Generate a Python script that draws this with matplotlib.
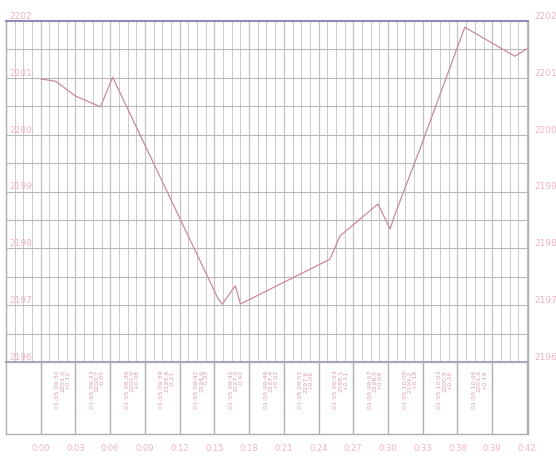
import numpy as np
import matplotlib.pyplot as plt

# data (x in tick units, y in price units)
xs = [0, 0.43, 1.0, 1.72, 2.07, 5.11, 5.23, 5.6, 5.75, 8.33, 8.62, 9.71, 10.06, 10.2, 10.92, 12.21, 13.65, 14.0]
ys = [2200.98, 2200.94, 2200.68, 2200.49, 2201.01, 2197.11, 2197.02, 2197.34, 2197.02,
      2197.81, 2198.22, 2198.78, 2198.34, 2198.60, 2199.75, 2201.89, 2201.38, 2201.51]

y_labels = ["2196", "2197", "2198", "2199", "2200", "2201", "2202"]
x_labels = ["0:00", "0:03", "0:06", "0:09", "0:12", "0:15", "0:18", "0:21", "0:24",
            "0:27", "0:30", "0:33", "0:36", "0:39", "0:42"]
band_texts = ["01-05 09:30\n2201.0\n+0.12", "01-05 09:33\n2200.7\n-0.05", "01-05 09:36\n2200.9\n+0.08",
              "01-05 09:39\n2199.8\n-0.21", "01-05 09:42\n2198.6\n-0.33", "01-05 09:45\n2197.3\n-0.40",
              "01-05 09:48\n2197.4\n+0.02", "01-05 09:51\n2197.6\n+0.06", "01-05 09:54\n2198.1\n+0.11",
              "01-05 09:57\n2198.5\n+0.09", "01-05 10:00\n2199.2\n+0.18", "01-05 10:03\n2200.8\n+0.36",
              "01-05 10:06\n2201.6\n+0.19"]

lab_col = "#efb3c8"
grid_col = "#c2c2c2"
W, H = 556, 460

fig = plt.figure(figsize=(5.56, 4.6), dpi=100)
ax = fig.add_axes([6 / W, 1 - 363 / H, (528 - 6) / W, (363 - 22) / H])
band = fig.add_axes([6 / W, 1 - 435 / H, (528 - 6) / W, (435 - 363) / H])

ymin, ymax = 2196, 2202
for a in (ax, band):
    a.set_xlim(-1, 14.03)
    a.set_xticks([])
    a.set_yticks([])
    for s in a.spines.values():
        s.set_color("#b0b0b0")
        s.set_linewidth(1)
ax.set_ylim(ymin, ymax)
ax.spines["top"].set_color("#9488bc")
ax.spines["top"].set_linewidth(1.5)
ax.spines["bottom"].set_color("#a49cc0")
ax.spines["bottom"].set_linewidth(1.5)

# grid: minor verticals every quarter tick, horizontals every half unit
for xv in np.arange(-1, 14.01, 0.25):
    ax.axvline(xv, color=grid_col, lw=0.6 if xv % 1 else 0.9, zorder=0)
for yv in np.arange(ymin, ymax + 0.01, 0.5):
    ax.axhline(yv, color="#b8b8b8", lw=0.8, zorder=0)

ax.plot(xs, ys, color="#c98aa0", lw=0.9, zorder=3)

# y labels on both sides, sitting just above each major line
for i, lab in enumerate(y_labels):
    yv = ymin + i
    ax.text(-0.9, yv + 0.02, lab, color=lab_col, fontsize=6.5, ha="left", va="bottom", clip_on=False)
    ax.text(14.22, yv + 0.02, lab, color=lab_col, fontsize=6.5, ha="left", va="bottom", clip_on=False)

# lower band with dividers and rotated info text
band.set_ylim(0, 1)
for i in range(15):
    band.axvline(i, color="#b0b0b0", lw=1)
for i, t in enumerate(band_texts):
    band.text(i + 0.85, 0.9, t, rotation=90, color="#d9a0b4", fontsize=4.6, ha="right", va="top",
              linespacing=1.0)
for i, lab in enumerate(x_labels):
    band.text(i, -0.12, lab, color=lab_col, fontsize=6, ha="center", va="top", clip_on=False)

fig.savefig("out.png", dpi=100)
